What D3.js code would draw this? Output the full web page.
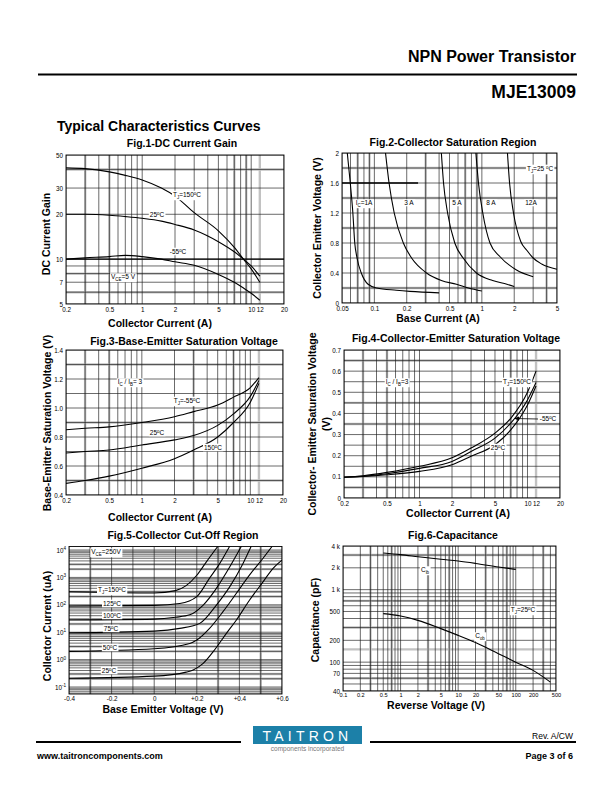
<!DOCTYPE html>
<html><head><meta charset="utf-8">
<script src="https://cdn.jsdelivr.net/npm/d3@7"></script>
<style>
body{margin:0;background:#fff}
svg{display:block}
text{font-family:"Liberation Sans",Arial,Helvetica,sans-serif;fill:#000}
</style></head><body>
<svg id="page" width="612" height="792"></svg>
<script>
// ---------------- DATA ----------------
// Fig.1 DC Current Gain (VCE = 5 V)
const f1Current = [0.2, 0.3, 0.5, 0.7, 1, 1.5, 2, 3, 5, 7, 8.5, 10, 12];
const f1Gain150 = [41, 40.5, 38.5, 36.5, 34, 30, 26.5, 20.5, 15.5, 12, 10, 8.6, 7.0];
const f1Gain25  = [20, 20, 19.7, 19.3, 18.8, 18, 17.1, 15.7, 13.1, 11.2, 10, 9.0, 7.7];
const f1GainM55 = [10, 10.2, 10.4, 10.6, 10.4, 10, 9.6, 9.1, 7.9, 7.0, 6.4, 5.9, 5.3];
const f1XTicks = [0.2, 0.5, 1, 2, 5, 10, 12, 20];
const f1YTicks = [5, 7, 10, 20, 30, 50];

// Fig.2 Collector Saturation Region
const f2Ib1A  = [0.056, 0.0597, 0.0631, 0.0657, 0.069, 0.0756, 0.0874, 0.105, 0.16, 0.214, 0.4];
const f2Vce1A = [2.0, 1.6, 1.2, 0.8, 0.6, 0.4, 0.25, 0.2, 0.17, 0.155, 0.135];
const f2Ib3A  = [0.127, 0.137, 0.153, 0.186, 0.222, 0.306, 0.42, 0.58, 0.75, 1.0];
const f2Vce3A = [2.0, 1.6, 1.2, 0.8, 0.6, 0.4, 0.3, 0.25, 0.2, 0.16];
const f2Ib5A  = [0.42, 0.44, 0.48, 0.56, 0.67, 0.89, 1.26, 1.71, 2.0];
const f2Vce5A = [2.0, 1.6, 1.2, 0.8, 0.6, 0.4, 0.3, 0.25, 0.22];
const f2Ib8A  = [0.88, 0.93, 1.02, 1.19, 1.47, 2.1, 3.0];
const f2Vce8A = [2.0, 1.6, 1.2, 0.8, 0.62, 0.44, 0.35];
const f2Ib12A  = [1.73, 1.81, 1.97, 2.3, 2.63, 3.0, 3.6, 5.0];
const f2Vce12A = [2.0, 1.6, 1.2, 0.82, 0.7, 0.6, 0.52, 0.45];
const f2XTicks = [0.05, 0.1, 0.2, 0.5, 1, 2, 5];
const f2YTicks = [0, 0.4, 0.8, 1.2, 1.6, 2];
const f2YTickLabels = ["0", "0.4", "0.8", "1.2", "1.6", "2"];

// Fig.3 Base-Emitter Saturation Voltage (IC/IB = 3)
const f3Current = [0.2, 0.3, 0.5, 1, 2, 3, 5, 7, 10, 12];
const f3VbeM55 = [0.85, 0.86, 0.87, 0.9, 0.94, 0.975, 1.02, 1.075, 1.14, 1.21];
const f3Vbe25  = [0.69, 0.70, 0.71, 0.745, 0.78, 0.81, 0.88, 0.96, 1.08, 1.19];
const f3Vbe150 = [0.48, 0.50, 0.53, 0.585, 0.65, 0.71, 0.80, 0.90, 1.04, 1.17];
const f3XTicks = [0.2, 0.5, 1, 2, 5, 10, 12, 20];
const f3YTicks = [0.4, 0.6, 0.8, 1.0, 1.2, 1.4];
const f3YTickLabels = ["0.4", "0.6", "0.8", "1.0", "1.2", "1.4"];

// Fig.4 Collector-Emitter Saturation Voltage (IC/IB = 3)
const f4Current = [0.2, 0.3, 0.5, 1, 2, 3, 5, 7, 10, 12];
const f4Vce150 = [0.098, 0.105, 0.121, 0.15, 0.19, 0.236, 0.307, 0.377, 0.50, 0.60];
const f4VceM55 = [0.098, 0.103, 0.115, 0.14, 0.173, 0.22, 0.283, 0.354, 0.464, 0.546];
const f4Vce25  = [0.098, 0.102, 0.110, 0.126, 0.157, 0.197, 0.252, 0.322, 0.44, 0.53];
const f4XTicks = [0.2, 0.5, 1, 2, 5, 10, 12, 20];
const f4YTicks = [0, 0.1, 0.2, 0.3, 0.4, 0.5, 0.6, 0.7];
const f4YTickLabels = ["0", "0.1", "0.2", "0.3", "0.4", "0.5", "0.6", "0.7"];

// Fig.5 Collector Cut-Off Region (VCE = 250 V), current in uA
const f5Vbe150 = [-0.4, 0, 0.1, 0.15, 0.2, 0.245, 0.3];
const f5Ic150  = [300, 270, 330, 500, 1200, 3700, 14000];
const f5Vbe125 = [-0.4, 0, 0.12, 0.2, 0.26, 0.308, 0.355];
const f5Ic125  = [90, 95, 112, 200, 940, 3250, 14000];
const f5Vbe100 = [-0.4, 0, 0.1, 0.167, 0.23, 0.292, 0.355, 0.41];
const f5Ic100  = [28, 30, 35, 43, 98, 400, 2450, 14000];
const f5Vbe75  = [-0.4, 0, 0.12, 0.214, 0.292, 0.355, 0.417, 0.456];
const f5Ic75   = [9.5, 11, 13.8, 21, 98, 460, 3250, 14000];
const f5Vbe50  = [-0.4, 0, 0.167, 0.2, 0.26, 0.323, 0.386, 0.448, 0.511, 0.555];
const f5Ic50   = [2.0, 2.5, 3.9, 5.2, 13.8, 56, 263, 1230, 5000, 14000];
const f5Vbe25  = [-0.4, 0, 0.15, 0.183, 0.23, 0.277, 0.339, 0.386, 0.448, 0.511, 0.558, 0.6];
const f5Ic25   = [0.21, 0.25, 0.35, 0.42, 0.73, 1.95, 9.1, 28, 150, 690, 2150, 4300];
const f5XTicks = [-0.4, -0.2, 0, 0.2, 0.4, 0.6];
const f5XTickLabels = ["-0.4", "-0.2", "0", "+0.2", "+0.4", "+0.6"];
const f5YTicks = [0.1, 1, 10, 100, 1000, 10000];
const f5YExponents = ["-1", "0", "1", "2", "3", "4"];

// Fig.6 Capacitance
const f6VoltsIb = [0.5, 1, 2, 5, 10, 20, 50, 100];
const f6Cib     = [3200, 3040, 2850, 2620, 2480, 2300, 2050, 1900];
const f6VoltsOb = [0.5, 1, 2, 5, 10, 20, 50, 100, 200, 400];
const f6Cob     = [467, 433, 377, 290, 234, 186, 131, 100, 77, 53];
const f6XTicks = [0.1, 0.2, 0.5, 1, 2, 5, 10, 20, 50, 100, 200, 500];
const f6YTicks = [40, 70, 100, 200, 500, 1000, 2000, 4000];
const f6YTickLabels = ["40", "70", "100", "200", "500", "1 k", "2 k", "4 k"];

// ---------------- DRAWING ----------------
const svg = d3.select('#page');
const FONT = '"Liberation Sans",Arial,Helvetica,sans-serif';

function logMinors(lo, hi) {
  const out = [];
  for (let e = Math.floor(Math.log10(lo)) - 1; e <= Math.ceil(Math.log10(hi)); e++) {
    for (let m = 1; m <= 9; m++) {
      const v = m * Math.pow(10, e);
      if (v >= lo * 0.9999 && v <= hi * 1.0001) out.push(v);
    }
  }
  return out;
}
function linSteps(lo, hi, step) {
  const out = [];
  for (let v = lo; v <= hi + step * 0.01; v += step) out.push(+v.toFixed(6));
  return out;
}

function richText(g, x, y, parts, opts = {}) {
  const size = opts.size || 6.5;
  const t = g.append('text').attr('x', x).attr('y', y + size * 0.35)
    .attr('text-anchor', opts.anchor || 'middle').attr('font-size', size)
    .attr('font-family', FONT);
  if (opts.bold) t.attr('font-weight', 'bold');
  let shift = 0;
  parts.forEach(p => {
    const s = p[0], k = p[1];
    const target = k === 'sub' ? size * 0.3 : (k === 'sup' ? -size * 0.4 : 0);
    const ts = t.append('tspan').attr('dy', target - shift).text(s);
    if (k) ts.attr('font-size', size * 0.68);
    shift = target;
  });
  if (opts.bg) {
    const b = t.node().getBBox();
    g.insert('rect', () => t.node()).attr('x', b.x - 1).attr('y', b.y)
      .attr('width', b.width + 2).attr('height', b.height).attr('fill', '#fff');
  }
  return t;
}

function panel(o) {
  const g = svg.append('g');
  const x = (o.xLog ? d3.scaleLog() : d3.scaleLinear()).domain(o.xDomain).range([o.x0, o.x1]);
  const y = (o.yLog ? d3.scaleLog() : d3.scaleLinear()).domain(o.yDomain).range([o.y1, o.y0]);
  const clipId = 'clip' + o.id;
  g.append('clipPath').attr('id', clipId).append('rect')
    .attr('x', o.x0).attr('y', o.y0).attr('width', o.x1 - o.x0).attr('height', o.y1 - o.y0);

  const grid = g.append('g').attr('clip-path', `url(#${clipId})`);
  grid.selectAll(null).data(o.grayX).join('line')
    .attr('x1', d => x(d)).attr('x2', d => x(d)).attr('y1', o.y0).attr('y2', o.y1)
    .attr('stroke', '#c2c2c2').attr('stroke-width', 2.4);
  grid.selectAll(null).data(o.grayY).join('line')
    .attr('y1', d => y(d)).attr('y2', d => y(d)).attr('x1', o.x0).attr('x2', o.x1)
    .attr('stroke', '#c2c2c2').attr('stroke-width', 2.4);
  grid.selectAll(null).data(o.gridX).join('line')
    .attr('x1', d => x(d)).attr('x2', d => x(d)).attr('y1', o.y0).attr('y2', o.y1)
    .attr('stroke', '#1a1a1a').attr('stroke-width', 0.65);
  grid.selectAll(null).data(o.gridY).join('line')
    .attr('y1', d => y(d)).attr('y2', d => y(d)).attr('x1', o.x0).attr('x2', o.x1)
    .attr('stroke', '#1a1a1a').attr('stroke-width', 0.65);

  g.append('rect').attr('x', o.x0).attr('y', o.y0).attr('width', o.x1 - o.x0)
    .attr('height', o.y1 - o.y0).attr('fill', 'none').attr('stroke', '#000').attr('stroke-width', 0.9);

  const ax = g.append('g').attr('transform', `translate(0,${o.y1})`)
    .call(d3.axisBottom(x).tickValues(o.xTicks).tickSize(0).tickPadding(o.xPad || 3.5)
      .tickFormat((d, i) => o.xTickLabels ? o.xTickLabels[i] : String(d)));
  ax.select('.domain').remove();
  ax.attr('font-size', o.xTickSize || 6.3).attr('font-family', FONT);
  const ay = g.append('g').attr('transform', `translate(${o.x0},0)`)
    .call(d3.axisLeft(y).tickValues(o.yTicks).tickSize(0).tickPadding(3)
      .tickFormat((d, i) => o.yTickLabels ? o.yTickLabels[i] : String(d)));
  ay.select('.domain').remove();
  ay.attr('font-size', 6.3).attr('font-family', FONT);

  g.append('text').attr('x', o.titleX).attr('y', o.titleY).attr('text-anchor', 'middle')
    .attr('font-size', 10.5).attr('font-weight', 'bold').attr('font-family', FONT).text(o.title);
  g.append('text').attr('x', o.xTitleX).attr('y', o.xTitleY).attr('text-anchor', 'middle')
    .attr('font-size', 10.5).attr('font-weight', 'bold').attr('font-family', FONT).text(o.xTitle);
  o.yTitles.forEach(t => {
    g.append('text').attr('transform', `translate(${t[1]},${t[2]}) rotate(-90)`)
      .attr('text-anchor', 'middle').attr('font-size', 10.5).attr('font-weight', 'bold')
      .attr('font-family', FONT).text(t[0]);
  });

  const curves = g.append('g').attr('clip-path', `url(#${clipId})`);
  return { g, x, y, curves, ax, ay };
}

function drawCurve(p, xs, ys, width) {
  const line = d3.line().x(d => p.x(d[0])).y(d => p.y(d[1])).curve(d3.curveMonotoneX);
  p.curves.append('path').datum(xs.map((v, i) => [v, ys[i]])).attr('d', line)
    .attr('fill', 'none').attr('stroke', '#000').attr('stroke-width', width || 1.1);
}

// ---- Header ----
svg.append('text').attr('x', 576).attr('y', 62).attr('text-anchor', 'end')
  .attr('font-size', 16).attr('font-weight', 'bold').attr('font-family', FONT).text('NPN Power Transistor');
svg.append('line').attr('x1', 38).attr('x2', 577).attr('y1', 74.5).attr('y2', 74.5)
  .attr('stroke', '#000').attr('stroke-width', 2);
svg.append('text').attr('x', 576).attr('y', 98).attr('text-anchor', 'end')
  .attr('font-size', 17.5).attr('font-weight', 'bold').attr('font-family', FONT).text('MJE13009');
svg.append('text').attr('x', 57).attr('y', 131).attr('text-anchor', 'start')
  .attr('font-size', 14).attr('font-weight', 'bold').attr('font-family', FONT).text('Typical Characteristics Curves');

// ---- Fig.1 ----
const p1 = panel({
  id: 1, x0: 66, x1: 284, y0: 155, y1: 304, xLog: true, yLog: true,
  xDomain: [0.2, 20], yDomain: [5, 50],
  gridX: logMinors(0.2, 20), gridY: logMinors(5, 50),
  grayX: [0.3, 0.5, 7, 9, 12], grayY: [6, 8, 40],
  xTicks: f1XTicks, yTicks: f1YTicks,
  title: 'Fig.1-DC Current Gain', titleX: 182, titleY: 146.5,
  xTitle: 'Collector Current (A)', xTitleX: 160, xTitleY: 326.5,
  yTitles: [['DC Current Gain', 50, 234]]
});
p1.curves.append('line').attr('x1', 66).attr('x2', 284).attr('y1', p1.y(10)).attr('y2', p1.y(10))
  .attr('stroke', '#000').attr('stroke-width', 1.3);
drawCurve(p1, f1Current, f1Gain150);
drawCurve(p1, f1Current, f1Gain25);
drawCurve(p1, f1Current, f1GainM55);
richText(p1.g, 187, 195, [['T'], ['J', 'sub'], ['=150'], ['o', 'sup'], ['C']], { bg: true });
richText(p1.g, 157, 215, [['25'], ['o', 'sup'], ['C']], { bg: true });
richText(p1.g, 178, 252, [['-55'], ['o', 'sup'], ['C']], { bg: true });
richText(p1.g, 123, 277, [['V'], ['CE', 'sub'], ['=5 V']], { bg: true });

// ---- Fig.2 ----
const p2 = panel({
  id: 2, x0: 342, x1: 557, y0: 153, y1: 303, xLog: true, yLog: false,
  xDomain: [0.05, 5], yDomain: [0, 2],
  gridX: logMinors(0.05, 5), gridY: linSteps(0, 2, 0.2),
  grayX: [0.07, 0.09, 0.3, 0.7, 0.9, 4], grayY: [0.2, 1.0, 1.4, 1.8],
  xTicks: f2XTicks, yTicks: f2YTicks, yTickLabels: f2YTickLabels,
  title: 'Fig.2-Collector Saturation Region', titleX: 453, titleY: 145.5,
  xTitle: 'Base Current (A)', xTitleX: 438, xTitleY: 322,
  yTitles: [['Collector Emitter Voltage (V)', 321, 228]]
});
p2.curves.append('line').attr('x1', p2.x(0.05)).attr('x2', p2.x(0.255)).attr('y1', p2.y(1.6)).attr('y2', p2.y(1.6))
  .attr('stroke', '#000').attr('stroke-width', 1.4);
drawCurve(p2, f2Ib1A, f2Vce1A);
drawCurve(p2, f2Ib3A, f2Vce3A);
drawCurve(p2, f2Ib5A, f2Vce5A);
drawCurve(p2, f2Ib8A, f2Vce8A);
drawCurve(p2, f2Ib12A, f2Vce12A);
richText(p2.g, 540, 169, [['T'], ['J', 'sub'], ['=25 '], ['o', 'sup'], ['C']], { bg: true });
richText(p2.g, 364, 203, [['I'], ['C', 'sub'], ['=1A']], { bg: true });
richText(p2.g, 409, 203, [['3 A']], { bg: true });
richText(p2.g, 457, 203, [['5 A']], { bg: true });
richText(p2.g, 491, 203, [['8 A']], { bg: true });
richText(p2.g, 531, 203, [['12A']], { bg: true });

// ---- Fig.3 ----
const p3 = panel({
  id: 3, x0: 66, x1: 283, y0: 350, y1: 495, xLog: true, yLog: false,
  xDomain: [0.2, 20], yDomain: [0.4, 1.4],
  gridX: logMinors(0.2, 20), gridY: linSteps(0.4, 1.4, 0.1),
  grayX: [0.3, 0.5, 3, 7, 12], grayY: [0.5, 0.9, 1.3],
  xTicks: f3XTicks, yTicks: f3YTicks, yTickLabels: f3YTickLabels,
  title: 'Fig.3-Base-Emitter Saturation Voltage', titleX: 184, titleY: 345,
  xTitle: 'Collector Current (A)', xTitleX: 160, xTitleY: 521,
  yTitles: [['Base-Emitter Saturation Voltage (V)', 51, 423]]
});
drawCurve(p3, f3Current, f3VbeM55);
drawCurve(p3, f3Current, f3Vbe25);
drawCurve(p3, f3Current, f3Vbe150);
richText(p3.g, 130, 382, [['I'], ['C', 'sub'], [' / I'], ['B', 'sub'], ['= 3']], { bg: true });
richText(p3.g, 187, 401, [['T'], ['J', 'sub'], ['=-55'], ['o', 'sup'], ['C']], { bg: true });
richText(p3.g, 157, 433, [['25'], ['o', 'sup'], ['C']], { bg: true });
richText(p3.g, 213, 448, [['150'], ['o', 'sup'], ['C']], { bg: true });

// ---- Fig.4 ----
const p4 = panel({
  id: 4, x0: 344, x1: 560, y0: 350, y1: 498, xLog: true, yLog: false,
  xDomain: [0.2, 20], yDomain: [0, 0.7],
  gridX: logMinors(0.2, 20), gridY: linSteps(0, 0.7, 0.05),
  grayX: [0.3, 0.5, 7, 12], grayY: [0.05, 0.35, 0.45, 0.65],
  xTicks: f4XTicks, yTicks: f4YTicks, yTickLabels: f4YTickLabels,
  title: 'Fig.4-Collector-Emitter Saturation Voltage', titleX: 456, titleY: 341.5,
  xTitle: 'Collector Current (A)', xTitleX: 458, xTitleY: 517,
  yTitles: [['Collector- Emitter Saturation Voltage', 316, 424], ['(V)', 330, 424]]
});
drawCurve(p4, f4Current, f4Vce150);
drawCurve(p4, f4Current, f4VceM55);
drawCurve(p4, f4Current, f4Vce25);
richText(p4.g, 397, 382, [['I'], ['C', 'sub'], [' / I'], ['B', 'sub'], ['=3']], { bg: true });
richText(p4.g, 517, 382, [['T'], ['J', 'sub'], ['=150'], ['o', 'sup'], ['C']], { bg: true });
richText(p4.g, 548, 419, [['-55'], ['o', 'sup'], ['C']], { bg: true });
richText(p4.g, 498, 448, [['25'], ['o', 'sup'], ['C']], { bg: true });
p4.g.append('line').attr('x1', 515).attr('y1', 418.5).attr('x2', 538).attr('y2', 419)
  .attr('stroke', '#000').attr('stroke-width', 0.8);
p4.g.append('path').attr('d', 'M514,418.5 L519,416.5 L519,420.5 Z').attr('fill', '#000');

// ---- Fig.5 ----
const p5 = panel({
  id: 5, x0: 69, x1: 282, y0: 546.5, y1: 694, xLog: false, yLog: true,
  xDomain: [-0.4, 0.6], yDomain: [Math.pow(10, -1.255), Math.pow(10, 4.128)],
  gridX: linSteps(-0.4, 0.6, 0.1), gridY: logMinors(Math.pow(10, -1.255), Math.pow(10, 4.128)),
  grayX: [-0.3, 0.3, 0.5], grayY: [0.2, 0.3, 2, 3, 20, 30, 200, 300, 2000, 3000],
  xTicks: f5XTicks, xTickLabels: f5XTickLabels, yTicks: f5YTicks, yTickLabels: f5YTicks.map(() => ''),
  xPad: 3,
  title: 'Fig.5-Collector Cut-Off Region', titleX: 183, titleY: 539,
  xTitle: 'Base Emitter Voltage (V)', xTitleX: 163, xTitleY: 713,
  yTitles: [['Collector Current (uA)', 51, 626]]
});
p5.ay.selectAll('.tick text').each(function (d, i) {
  const t = d3.select(this);
  t.text('10');
  t.append('tspan').attr('dy', -2.5).attr('font-size', 4.6).text(f5YExponents[i]);
});
drawCurve(p5, f5Vbe150, f5Ic150);
drawCurve(p5, f5Vbe125, f5Ic125);
drawCurve(p5, f5Vbe100, f5Ic100);
drawCurve(p5, f5Vbe75, f5Ic75);
drawCurve(p5, f5Vbe50, f5Ic50);
drawCurve(p5, f5Vbe25, f5Ic25);
richText(p5.g, 106, 552, [['V'], ['CE', 'sub'], ['=250V']], { bg: true });
richText(p5.g, 112, 590, [['T'], ['J', 'sub'], ['=150'], ['o', 'sup'], ['C']], { bg: true });
richText(p5.g, 112, 604, [['125'], ['o', 'sup'], ['C']], { bg: true });
richText(p5.g, 112, 616, [['100'], ['o', 'sup'], ['C']], { bg: true });
richText(p5.g, 111, 629, [['75'], ['o', 'sup'], ['C']], { bg: true });
richText(p5.g, 110, 648, [['50'], ['o', 'sup'], ['C']], { bg: true });
richText(p5.g, 109, 671, [['25'], ['o', 'sup'], ['C']], { bg: true });

// ---- Fig.6 ----
const p6 = panel({
  id: 6, x0: 343, x1: 556, y0: 546, y1: 691, xLog: true, yLog: true,
  xDomain: [0.1, 500], yDomain: [40, 4000],
  gridX: logMinors(0.1, 500), gridY: logMinors(40, 4000),
  grayX: [0.3, 0.7, 3, 7, 30, 70, 300], grayY: [60, 150, 300, 700, 3000],
  xTicks: f6XTicks, yTicks: f6YTicks, yTickLabels: f6YTickLabels,
  xPad: 2, xTickSize: 5.6,
  title: 'Fig.6-Capacitance', titleX: 453, titleY: 539,
  xTitle: 'Reverse Voltage (V)', xTitleX: 436, xTitleY: 708.5,
  yTitles: [['Capacitance (pF)', 319, 620]]
});
drawCurve(p6, f6VoltsIb, f6Cib);
drawCurve(p6, f6VoltsOb, f6Cob);
richText(p6.g, 425, 570, [['C'], ['ib', 'sub']], { bg: true });
richText(p6.g, 523, 610, [['T'], ['J', 'sub'], ['=25'], ['o', 'sup'], ['C']], { bg: true });
richText(p6.g, 480, 636, [['C'], ['ob', 'sub']], { bg: true });

// ---- Footer ----
svg.append('line').attr('x1', 36).attr('x2', 241).attr('y1', 742).attr('y2', 742).attr('stroke', '#000').attr('stroke-width', 2);
svg.append('line').attr('x1', 370).attr('x2', 576).attr('y1', 742).attr('y2', 742).attr('stroke', '#000').attr('stroke-width', 2);
svg.append('rect').attr('x', 253).attr('y', 726).attr('width', 109).attr('height', 18).attr('fill', '#1c80a8');
svg.append('text').attr('x', 307.5).attr('y', 740.5).attr('text-anchor', 'middle').attr('font-size', 14)
  .attr('letter-spacing', 4.2).attr('font-family', FONT).style('fill', '#fff').text('TAITRON');
svg.append('text').attr('x', 307.5).attr('y', 751).attr('text-anchor', 'middle').attr('font-size', 6.5)
  .attr('font-family', FONT).style('fill', '#777').text('components incorporated');
svg.append('text').attr('x', 573).attr('y', 739).attr('text-anchor', 'end').attr('font-size', 8.5)
  .attr('font-family', FONT).text('Rev. A/CW');
svg.append('text').attr('x', 573).attr('y', 759).attr('text-anchor', 'end').attr('font-size', 9)
  .attr('font-weight', 'bold').attr('font-family', FONT).text('Page 3 of 6');
svg.append('text').attr('x', 37).attr('y', 759).attr('text-anchor', 'start').attr('font-size', 9)
  .attr('font-weight', 'bold').attr('font-family', FONT).text('www.taitroncomponents.com');
</script>
</body></html>
